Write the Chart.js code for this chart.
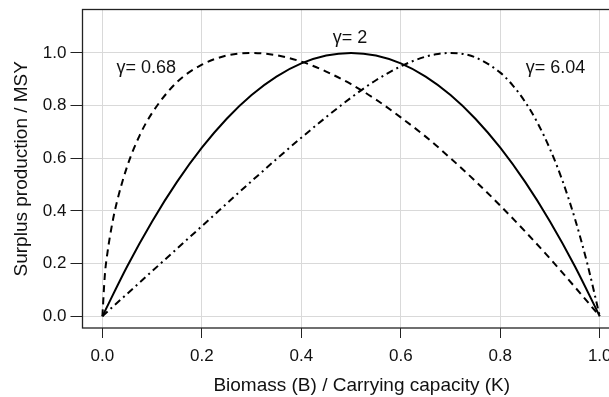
<!DOCTYPE html>
<html lang="en">
<head>
<meta charset="UTF-8" />
<script src="https://cdn.jsdelivr.net/npm/chart.js"></script>
<title>Surplus production</title>
<style>
  html, body { margin: 0; padding: 0; background: #fff; overflow: hidden; }
  .wrap { width: 650px; height: 397px; }
</style>
</head>
<body>
<div class="wrap"><canvas id="myChart" width="650" height="397"></canvas></div>
<script>
// tick labels
const xTicks = [0, 0.2, 0.4, 0.6, 0.8, 1.0];
const yTicks = [0, 0.2, 0.4, 0.6, 0.8, 1.0];

// gamma = 0.68 (dashed)
const biomassLow = [0, 0.005, 0.01, 0.02, 0.03, 0.05, 0.075, 0.1, 0.15, 0.2, 0.25, 0.3, 0.35, 0.4, 0.45, 0.5, 0.55, 0.6, 0.65, 0.7, 0.75, 0.8, 0.85, 0.9, 0.95, 1.0];
const prodLow = [0, 0.158, 0.239, 0.354, 0.440, 0.570, 0.687, 0.772, 0.889, 0.955, 0.990, 1.000, 0.991, 0.967, 0.929, 0.881, 0.823, 0.755, 0.682, 0.600, 0.513, 0.420, 0.322, 0.219, 0.111, 0];

// gamma = 2 (solid)
const biomassMid = [0, 0.05, 0.1, 0.15, 0.2, 0.25, 0.3, 0.35, 0.4, 0.45, 0.5, 0.55, 0.6, 0.65, 0.7, 0.75, 0.8, 0.85, 0.9, 0.95, 1.0];
const prodMid = [0, 0.19, 0.36, 0.51, 0.64, 0.75, 0.84, 0.91, 0.96, 0.99, 1.0, 0.99, 0.96, 0.91, 0.84, 0.75, 0.64, 0.51, 0.36, 0.19, 0];

// gamma = 6.04 (dash-dot)
const biomassHigh = [0, 0.1, 0.2, 0.3, 0.4, 0.5, 0.55, 0.6, 0.65, 0.675, 0.7, 0.725, 0.75, 0.8, 0.825, 0.85, 0.875, 0.9, 0.925, 0.95, 0.975, 1.0];
const prodHigh = [0, 0.171, 0.342, 0.513, 0.678, 0.830, 0.896, 0.949, 0.986, 0.996, 1.000, 0.996, 0.983, 0.925, 0.877, 0.814, 0.734, 0.635, 0.515, 0.371, 0.200, 0];

// curve labels
const curveLabels = ["\u03b3= 0.68", "\u03b3= 2", "\u03b3= 6.04"];
const labelX = [0.088, 0.498, 0.911];
const labelY = [0.944, 1.057, 0.944];

const FONT = '"Liberation Sans", Arial, Helvetica, sans-serif';

function pts(xs, ys) {
  return xs.map(function (x, i) { return { x: x, y: ys[i] }; });
}

const frameAndLabels = {
  id: 'frameAndLabels',
  afterDraw(chart) {
    const ctx = chart.ctx;
    const a = chart.chartArea;
    const xs = chart.scales.x;
    const ys = chart.scales.y;
    ctx.save();
    ctx.strokeStyle = '#222';
    ctx.lineWidth = 1.3;
    ctx.strokeRect(a.left, a.top, a.right - a.left, a.bottom - a.top);
    ctx.fillStyle = '#111';
    ctx.font = '18px ' + FONT;
    ctx.textAlign = 'center';
    ctx.textBaseline = 'middle';
    for (let i = 0; i < curveLabels.length; i++) {
      ctx.fillText(curveLabels[i], xs.getPixelForValue(labelX[i]), ys.getPixelForValue(labelY[i]));
    }
    ctx.restore();
  }
};

const line = { pointRadius: 0, borderColor: '#000', borderWidth: 2, fill: false, cubicInterpolationMode: 'monotone' };

new Chart(document.getElementById('myChart'), {
  type: 'line',
  data: {
    datasets: [
      Object.assign({ label: 'gamma 0.68', data: pts(biomassLow, prodLow), borderDash: [7, 5] }, line),
      Object.assign({ label: 'gamma 2', data: pts(biomassMid, prodMid) }, line),
      Object.assign({ label: 'gamma 6.04', data: pts(biomassHigh, prodHigh), borderDash: [7, 4, 2, 4] }, line)
    ]
  },
  options: {
    responsive: false,
    devicePixelRatio: 1,
    animation: false,
    layout: { padding: { top: 9.5, right: 9, left: 0, bottom: 0 } },
    plugins: { legend: { display: false }, tooltip: { enabled: false } },
    scales: {
      x: {
        type: 'linear',
        min: -0.04,
        max: 1.083,
        afterBuildTicks: function (axis) { axis.ticks = xTicks.map(function (v) { return { value: v }; }); },
        afterFit: function (axis) { axis.height = 69; axis.paddingLeft = 0; axis.paddingRight = 0; },
        grid: { color: '#d9d9d9', tickColor: '#222', tickLength: 10 },
        border: { display: false },
        ticks: { color: '#111', font: { family: FONT, size: 17 }, padding: 8, maxRotation: 0,
                 callback: function (v) { return v.toFixed(1); } },
        title: { display: true, text: 'Biomass (B) / Carrying capacity (K)', color: '#111',
                 font: { family: FONT, size: 19 }, padding: { top: 2, bottom: 0 } }
      },
      y: {
        type: 'linear',
        min: -0.0448,
        max: 1.1648,
        afterBuildTicks: function (axis) { axis.ticks = yTicks.map(function (v) { return { value: v }; }); },
        afterFit: function (axis) { axis.width = 82.5; axis.paddingTop = 0; axis.paddingBottom = 0; },
        grid: { color: '#d9d9d9', tickColor: '#222', tickLength: 12 },
        border: { display: false },
        ticks: { color: '#111', font: { family: FONT, size: 17 }, padding: 4,
                 callback: function (v) { return v.toFixed(1); } },
        title: { display: true, text: 'Surplus production / MSY', color: '#111',
                 font: { family: FONT, size: 19 }, padding: { top: 10, bottom: 0 } }
      }
    }
  },
  plugins: [frameAndLabels]
});
</script>
</body>
</html>
